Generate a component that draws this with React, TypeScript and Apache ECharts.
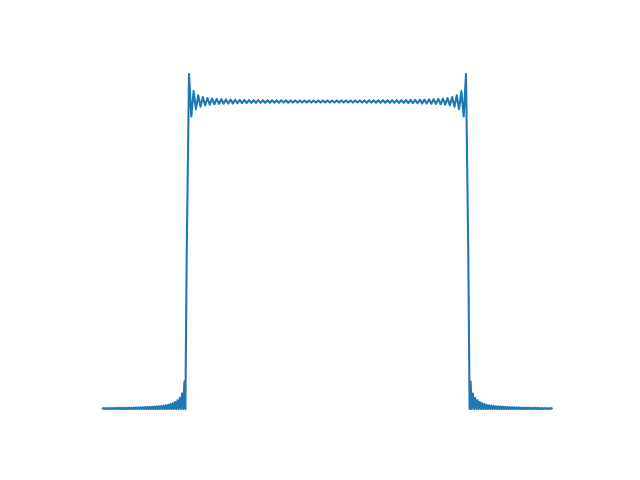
import React, { useEffect, useRef } from "react";
import * as echarts from "echarts";

// Horizontal extent of the curve (x units) and its key positions
const xMax = 451;
const halfPeriod = 277 / 120; // distance between successive extrema
const leftBottomPeakX = 82.4; // first bottom extremum just left of the jump
const jumpZeroX = 83.4;
const jumpMidX = 84.7;
const jumpMidY = 0.5;
const leftTopPeakX = 87;

// Magnitude of the bottom ripple, from the jump outward (left side; right side is its mirror)
const bottomEnvelope = [
  0.089, 0.05, 0.036, 0.028, 0.023, 0.019, 0.016, 0.014, 0.012, 0.011,
  0.01, 0.009, 0.0085, 0.008, 0.0075, 0.007, 0.0065, 0.006, 0.0058, 0.0055,
  0.0052, 0.005, 0.0048, 0.0046, 0.0044, 0.0042, 0.004, 0.0039, 0.0038, 0.0037,
  0.0036, 0.0035, 0.0034, 0.0033, 0.0032, 0.0031,
];

// Deviation of the top ripple from 1, from the left overshoot to the centre
const topDeviation = [
  0.089, 0.049, 0.034, 0.025, 0.02, 0.017, 0.0145, 0.0128, 0.0115, 0.0105,
  0.0097, 0.009, 0.0084, 0.0079, 0.0075, 0.0071, 0.0068, 0.0065, 0.0062, 0.006,
  0.0058, 0.0056, 0.0054, 0.0052, 0.0051, 0.0049, 0.0048, 0.0047, 0.0046, 0.0045,
  0.0044, 0.0043, 0.0042, 0.0042, 0.0041, 0.004, 0.004, 0.0039, 0.0039, 0.0038,
  0.0038, 0.0037, 0.0037, 0.0037, 0.0036, 0.0036, 0.0036, 0.0035, 0.0035, 0.0035,
  0.0035, 0.0035, 0.0034, 0.0034, 0.0034, 0.0034, 0.0034, 0.0034, 0.0034, 0.0034,
  0.0034,
];

function buildData(): number[][] {
  const left: number[][] = [[0, 0]];
  for (let j = bottomEnvelope.length - 1; j >= 0; j--) {
    const x = leftBottomPeakX - j * halfPeriod;
    left.push([x - halfPeriod / 2, 0]);
    left.push([x, bottomEnvelope[j]]);
  }
  left.push([jumpZeroX, 0]);
  left.push([jumpMidX, jumpMidY]);
  for (let i = 0; i < topDeviation.length; i++) {
    const sign = i % 2 === 0 ? 1 : -1;
    left.push([leftTopPeakX + i * halfPeriod, 1 + sign * topDeviation[i]]);
  }
  const right: number[][] = [];
  for (let k = left.length - 2; k >= 0; k--) {
    right.push([xMax - left[k][0], left[k][1]]);
  }
  return left.concat(right);
}

export default function App() {
  const ref = useRef<HTMLDivElement>(null);
  useEffect(() => {
    if (!ref.current) return;
    const chart = echarts.init(ref.current, null, { renderer: "svg" });
    chart.setOption({
      animation: false,
      backgroundColor: "#ffffff",
      grid: { left: 102, width: 451, top: 70.75, height: 338.25 },
      xAxis: { type: "value", min: 0, max: xMax, show: false },
      yAxis: { type: "value", min: 0, max: 1.1, show: false },
      series: [
        {
          type: "line",
          data: buildData(),
          symbol: "none",
          showSymbol: false,
          lineStyle: { color: "#1f77b4", width: 2.08, cap: "butt", join: "round" },
          itemStyle: { color: "#1f77b4" },
        },
      ],
    });
    return () => chart.dispose();
  }, []);
  return (
    <div
      ref={ref}
      style={{ position: "fixed", left: 0, top: 0, width: 640, height: 480, background: "#fff" }}
    />
  );
}
